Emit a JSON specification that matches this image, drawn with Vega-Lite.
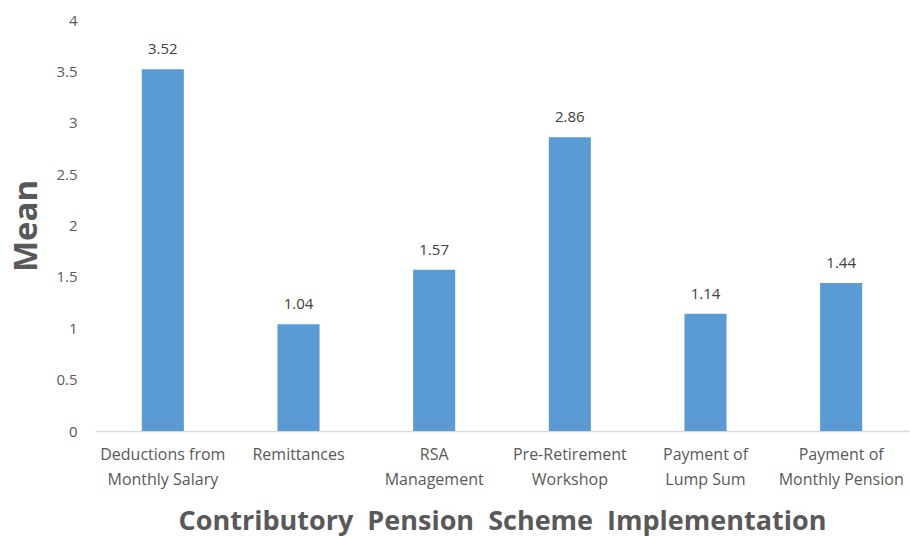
{
  "$schema": "https://vega.github.io/schema/vega-lite/v6.json",
  "width": 814,
  "height": 411,
  "autosize": "none",
  "padding": {"left": 95, "top": 20, "right": 1, "bottom": 105},
  "background": "white",
  "config": {"view": {"stroke": null}, "font": "Open Sans"},
  "data": {
    "values": [
      {"category": "Deductions from|Monthly Salary", "mean": 3.52},
      {"category": "Remittances", "mean": 1.04},
      {"category": "RSA|Management", "mean": 1.57},
      {"category": "Pre-Retirement|Workshop", "mean": 2.86},
      {"category": "Payment of|Lump Sum", "mean": 1.14},
      {"category": "Payment of|Monthly Pension", "mean": 1.44}
    ]
  },
  "encoding": {
    "x": {
      "field": "category",
      "type": "nominal",
      "sort": null,
      "scale": {"paddingInner": 0.69, "paddingOuter": 0.345},
      "axis": {
        "title": "Contributory\u00a0 Pension\u00a0 Scheme\u00a0 Implementation",
        "titleFont": "Open Sans",
        "titleFontSize": 27,
        "titleFontWeight": "bold",
        "titleColor": "#595959",
        "titlePadding": 21,
        "labelAngle": 0,
        "labelExpr": "split(datum.value, '|')",
        "labelFont": "Open Sans",
        "labelFontSize": 16,
        "labelColor": "#595959",
        "labelPadding": 15,
        "labelLineHeight": 25,
        "ticks": false,
        "domainColor": "#D9D9D9",
        "domainWidth": 1.5,
        "labelLimit": 200
      }
    },
    "y": {
      "field": "mean",
      "type": "quantitative",
      "scale": {"domain": [0, 4]},
      "axis": {
        "title": "Mean",
        "titleFont": "Open Sans",
        "titleFontSize": 33,
        "titleFontWeight": "bold",
        "titleColor": "#595959",
        "titlePadding": 12,
        "values": [0, 0.5, 1, 1.5, 2, 2.5, 3, 3.5, 4],
        "format": "~g",
        "labelFont": "Open Sans",
        "labelFontSize": 15,
        "labelColor": "#595959",
        "labelPadding": 18,
        "ticks": false,
        "domain": false,
        "grid": false
      }
    }
  },
  "layer": [
    {"mark": {"type": "bar", "color": "#5B9BD5"}},
    {
      "mark": {"type": "text", "baseline": "bottom", "dy": -12, "fontSize": 15, "color": "#404040", "font": "Open Sans"},
      "encoding": {"text": {"field": "mean", "type": "quantitative", "format": ".2f"}}
    }
  ]
}
